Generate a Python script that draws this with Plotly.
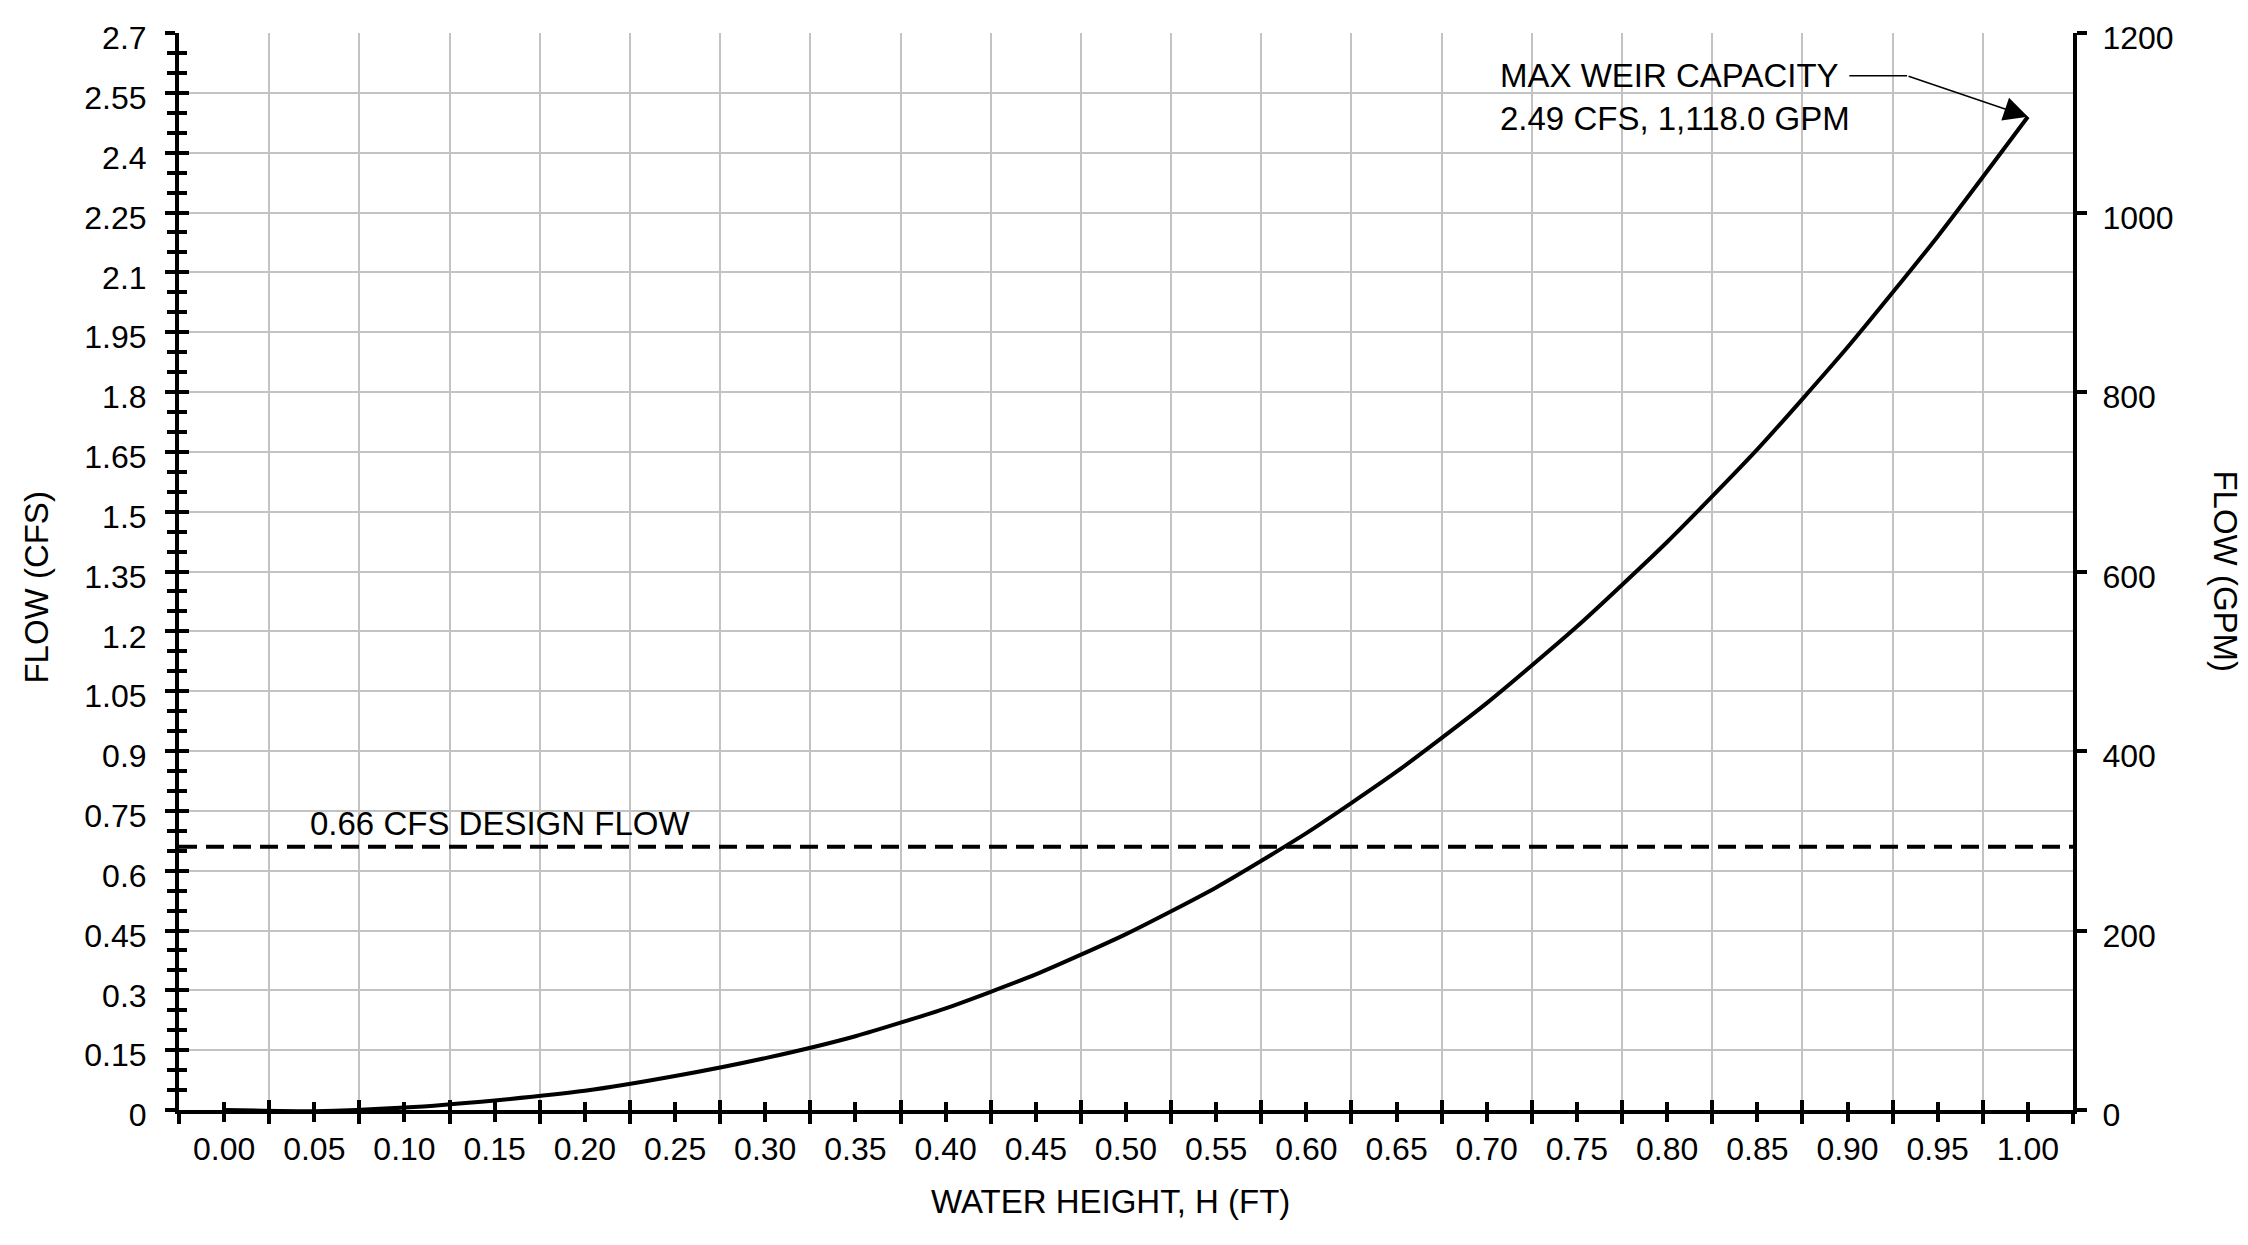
import plotly.graph_objects as go

# ---------------- data ----------------
H_FT = [0.00, 0.05, 0.10, 0.15, 0.20, 0.25, 0.30, 0.35, 0.40, 0.45, 0.50,
        0.55, 0.60, 0.65, 0.70, 0.75, 0.80, 0.85, 0.90, 0.95, 1.00]
Q_CFS = [0.000, -0.003, 0.006, 0.024, 0.048, 0.085, 0.130, 0.185, 0.255, 0.340, 0.441,
         0.558, 0.694, 0.848, 1.020, 1.212, 1.424, 1.656, 1.912, 2.190, 2.490]

DESIGN_FLOW_CFS = 0.66
MAX_FLOW_CFS = 2.49
MAX_FLOW_GPM = 1118.0

X_RANGE = [-0.025, 1.025]
Y_RANGE_CFS = [0, 2.7]
Y_RANGE_GPM = [0, 1200]

X_TICK_VALS = [0.00, 0.05, 0.10, 0.15, 0.20, 0.25, 0.30, 0.35, 0.40, 0.45, 0.50,
               0.55, 0.60, 0.65, 0.70, 0.75, 0.80, 0.85, 0.90, 0.95, 1.00]
X_TICK_TEXT = ["0.00", "0.05", "0.10", "0.15", "0.20", "0.25", "0.30", "0.35", "0.40",
               "0.45", "0.50", "0.55", "0.60", "0.65", "0.70", "0.75", "0.80", "0.85",
               "0.90", "0.95", "1.00"]
X_GRID_VALS = [-0.025, 0.025, 0.075, 0.125, 0.175, 0.225, 0.275, 0.325, 0.375, 0.425,
               0.475, 0.525, 0.575, 0.625, 0.675, 0.725, 0.775, 0.825, 0.875, 0.925,
               0.975, 1.025]

Y_TICK_VALS = [0, 0.15, 0.3, 0.45, 0.6, 0.75, 0.9, 1.05, 1.2, 1.35, 1.5, 1.65, 1.8,
               1.95, 2.1, 2.25, 2.4, 2.55, 2.7]
Y_TICK_TEXT = ["0", "0.15", "0.3", "0.45", "0.6", "0.75", "0.9", "1.05", "1.2", "1.35",
               "1.5", "1.65", "1.8", "1.95", "2.1", "2.25", "2.4", "2.55", "2.7"]
Y_GRID_VALS = Y_TICK_VALS[1:-1]
Y_MINOR_VALS = [round(i * 0.05, 2) for i in range(55) if i % 3 != 0]

GPM_TICK_VALS = [0, 200, 400, 600, 800, 1000, 1200]
GPM_TICK_TEXT = ["0", "200", "400", "600", "800", "1000", "1200"]

# ---------------- style ----------------
FONT = "Liberation Sans, Arial, sans-serif"
BLACK = "#000000"
GRID = "#c3c3c3"
TICK_W = 3.5
AX_W = 4

fig = go.Figure()

fig.add_trace(go.Scatter(
    x=H_FT, y=Q_CFS, mode="lines",
    line=dict(color=BLACK, width=4, shape="spline", smoothing=0.6),
    showlegend=False, hoverinfo="x+y"))

fig.add_trace(go.Scatter(
    x=X_RANGE, y=[DESIGN_FLOW_CFS, DESIGN_FLOW_CFS], mode="lines",
    line=dict(color=BLACK, width=4, dash="18px,9px"),
    showlegend=False, hoverinfo="skip"))

# helper traces so the extra axes are drawn
fig.add_trace(go.Scatter(x=[None], y=[None], xaxis="x", yaxis="y2",
                         showlegend=False, hoverinfo="skip"))
fig.add_trace(go.Scatter(x=[None], y=[None], xaxis="x2", yaxis="y3",
                         showlegend=False, hoverinfo="skip"))
fig.add_trace(go.Scatter(x=[None], y=[None], xaxis="x", yaxis="y4",
                         showlegend=False, hoverinfo="skip"))

fig.update_layout(
    width=2248, height=1245, autosize=False,
    paper_bgcolor="white", plot_bgcolor="white",
    margin=dict(l=179, r=175, t=33, b=135, pad=0),
    font=dict(family=FONT, size=32, color=BLACK),
    showlegend=False,
    xaxis=dict(
        domain=[0, 1], range=X_RANGE, anchor="y",
        tickmode="array", tickvals=X_TICK_VALS, ticktext=X_TICK_TEXT,
        ticks="outside", ticklen=8, tickwidth=TICK_W, tickcolor=BLACK,
        showline=True, linewidth=AX_W, linecolor=BLACK,
        showgrid=False, zeroline=False,
        tickfont=dict(size=32, family=FONT, color=BLACK),
        minor=dict(tickmode="array", tickvals=X_GRID_VALS, ticks="outside",
                   ticklen=10, tickwidth=TICK_W, tickcolor=BLACK,
                   showgrid=True, gridcolor=GRID, gridwidth=1.6),
    ),
    xaxis2=dict(
        overlaying="x", anchor="y", side="bottom", range=X_RANGE,
        tickmode="array", tickvals=X_TICK_VALS,
        ticks="inside", ticklen=8, tickwidth=TICK_W, tickcolor=BLACK,
        showticklabels=False, showgrid=False, showline=False, zeroline=False,
        minor=dict(tickmode="array", tickvals=X_GRID_VALS, ticks="inside",
                   ticklen=10, tickwidth=TICK_W, tickcolor=BLACK, showgrid=False),
    ),
    yaxis=dict(
        domain=[0, 1], range=Y_RANGE_CFS, anchor="x", side="left",
        tickmode="array", tickvals=Y_TICK_VALS, ticktext=Y_TICK_TEXT,
        ticks="outside", ticklen=10, tickwidth=TICK_W, tickcolor=BLACK,
        showline=True, linewidth=AX_W, linecolor=BLACK,
        showgrid=False, zeroline=False,
        ticklabelstandoff=12, ticklabelshift=5,
        tickfont=dict(size=32, family=FONT, color=BLACK),
        minor=dict(tickmode="array", tickvals=Y_MINOR_VALS, ticks="outside",
                   ticklen=8, tickwidth=TICK_W, tickcolor=BLACK, showgrid=False),
    ),
    yaxis2=dict(
        overlaying="y", anchor="x", side="right", range=Y_RANGE_GPM,
        tickmode="array", tickvals=GPM_TICK_VALS, ticktext=GPM_TICK_TEXT,
        ticks="outside", ticklen=10, tickwidth=TICK_W, tickcolor=BLACK,
        showline=True, linewidth=AX_W, linecolor=BLACK,
        showgrid=False, zeroline=False,
        ticklabelstandoff=9, ticklabelshift=5,
        tickfont=dict(size=32, family=FONT, color=BLACK),
    ),
    yaxis3=dict(
        overlaying="y", anchor="x", side="left", range=Y_RANGE_CFS,
        tickmode="array", tickvals=Y_TICK_VALS,
        ticks="inside", ticklen=10, tickwidth=TICK_W, tickcolor=BLACK,
        showticklabels=False, showgrid=False, showline=False, zeroline=False,
        minor=dict(tickmode="array", tickvals=Y_MINOR_VALS, ticks="inside",
                   ticklen=8, tickwidth=TICK_W, tickcolor=BLACK, showgrid=False),
    ),
    yaxis4=dict(
        overlaying="y", anchor="x", side="left", range=Y_RANGE_CFS,
        tickmode="array", tickvals=Y_GRID_VALS, ticks="",
        showticklabels=False, showgrid=True, gridcolor=GRID, gridwidth=1.6,
        showline=False, zeroline=False,
    ),
)

# leader line for max capacity callout
LEADER_X = [0.901, 0.933]
LEADER_Y = 2.593
fig.add_shape(type="line", xref="x", yref="y",
              x0=LEADER_X[0], x1=LEADER_X[1], y0=LEADER_Y, y1=LEADER_Y,
              line=dict(color=BLACK, width=1.5))

annotations = [
    dict(x=H_FT[-1], y=Q_CFS[-1], xref="x", yref="y",
         ax=LEADER_X[1], ay=LEADER_Y, axref="x", ayref="y",
         text="", showarrow=True, arrowhead=2, arrowsize=3.2, arrowwidth=1.5,
         arrowcolor=BLACK, standoff=0, startstandoff=0),
    dict(x=0.706, y=2.539, xref="x", yref="y", xanchor="left", yanchor="middle",
         align="left", showarrow=False,
         text=f"MAX WEIR CAPACITY<br>{MAX_FLOW_CFS:.2f} CFS, {MAX_FLOW_GPM:,.1f} GPM",
         font=dict(size=33, family=FONT, color=BLACK)),
    dict(x=0.153, y=DESIGN_FLOW_CFS, xref="x", yref="y", xanchor="center",
         yanchor="middle", yshift=23, showarrow=False,
         text=f"{DESIGN_FLOW_CFS:.2f} CFS DESIGN FLOW",
         font=dict(size=33, family=FONT, color=BLACK)),
    dict(x=-0.075, y=0.485, xref="paper", yref="paper", xanchor="center",
         yanchor="middle", textangle=-90, showarrow=False, text="FLOW (CFS)",
         font=dict(size=33, family=FONT, color=BLACK)),
    dict(x=1.0803, y=0.5, xref="paper", yref="paper", xanchor="center",
         yanchor="middle", textangle=90, showarrow=False, text="FLOW (GPM)",
         font=dict(size=33, family=FONT, color=BLACK)),
    dict(x=0.492, y=-0.0845, xref="paper", yref="paper", xanchor="center",
         yanchor="middle", showarrow=False, text="WATER HEIGHT, H (FT)",
         font=dict(size=33, family=FONT, color=BLACK)),
]
fig.update_layout(annotations=annotations)

fig.write_html(
    "out.html",
    config={"displayModeBar": False},
    post_script="document.body.style.margin='0';document.body.style.overflow='hidden';",
)
